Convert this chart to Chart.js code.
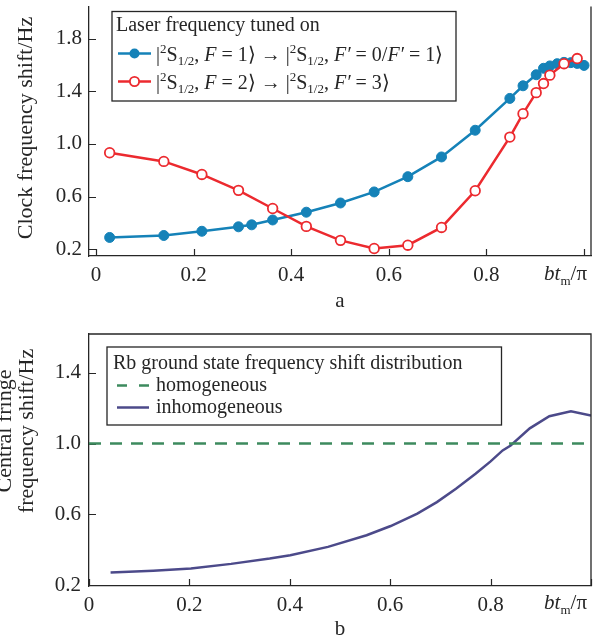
<!DOCTYPE html>
<html>
<head>
<meta charset="utf-8">
<script src="https://cdn.jsdelivr.net/npm/chart.js@4.4.0/dist/chart.umd.min.js"></script>
<style>
  body { margin: 0; background: #fff; }
  .panel { position: absolute; left: 0; width: 606px; }
  #boxA { top: 0; height: 320px; }
  #boxB { top: 320px; height: 323px; }
</style>
</head>
<body>
<div class="panel" id="boxA"><canvas id="chartA" width="606" height="320"></canvas></div>
<div class="panel" id="boxB"><canvas id="chartB" width="606" height="323"></canvas></div>
<script>
// ticks shared by both panels
const xTicks = [0, 0.2, 0.4, 0.6, 0.8, 1.0];
const xTickLabels = ['0', '0.2', '0.4', '0.6', '0.8', ''];
const yTicksA = [0.2, 0.6, 1.0, 1.4, 1.8];
const yTicksB = [0.2, 0.6, 1.0, 1.4];

// panel a: laser tuned on F=1 (blue, filled) and F=2 (red, open)
const blueX = [0.028, 0.139, 0.217, 0.292, 0.319, 0.362, 0.431, 0.501, 0.570, 0.639, 0.708,
  0.777, 0.848, 0.875, 0.902, 0.917, 0.930, 0.945, 0.959, 0.973, 0.986, 1.0];
const blueY = [0.289, 0.304, 0.336, 0.370, 0.385, 0.422, 0.481, 0.551, 0.635, 0.751, 0.901,
  1.104, 1.346, 1.442, 1.526, 1.575, 1.593, 1.610, 1.620, 1.618, 1.612, 1.597];
const redX = [0.028, 0.139, 0.217, 0.292, 0.362, 0.431, 0.501, 0.570, 0.639, 0.708,
  0.777, 0.848, 0.875, 0.902, 0.917, 0.930, 0.959, 0.986];
const redY = [0.933, 0.867, 0.768, 0.647, 0.509, 0.373, 0.267, 0.205, 0.230, 0.365,
  0.644, 1.052, 1.230, 1.390, 1.459, 1.523, 1.610, 1.649];

// panel b: Rb ground state shift distribution
const homX = [0, 1];
const homY = [1.0, 1.0];
const inhX = [0.043, 0.128, 0.203, 0.283, 0.360, 0.401, 0.476, 0.553, 0.601, 0.654,
  0.693, 0.731, 0.770, 0.800, 0.824, 0.840, 0.878, 0.917, 0.960, 1.0];
const inhY = [0.271, 0.281, 0.294, 0.320, 0.350, 0.369, 0.416, 0.482, 0.534, 0.604,
  0.669, 0.745, 0.829, 0.899, 0.961, 0.989, 1.086, 1.154, 1.182, 1.158];

const SERIF = "'Liberation Serif', 'Times New Roman', serif";
const INK = '#262626';
const BLUE = '#1582b8';
const RED = '#ec2a2f';
const GREEN = '#3d8a5e';
const PURPLE = '#4c4a8a';

const pts = (xs, ys) => xs.map((x, i) => ({ x: x, y: ys[i] }));

// draws text made of pieces: n = normal, i = italic, sup / sub = small raised / lowered
function richText(ctx, parts, x, y, size, align) {
  const fontOf = k => {
    const s = (k === 'sup' || k === 'sub') ? Math.round(size * 0.64) : size;
    return (k === 'i' ? 'italic ' : '') + s + 'px ' + SERIF;
  };
  let w = 0;
  parts.forEach(([t, k]) => { ctx.font = fontOf(k); w += ctx.measureText(t).width; });
  let cx = align === 'right' ? x - w : x;
  ctx.textAlign = 'left';
  ctx.textBaseline = 'alphabetic';
  parts.forEach(([t, k]) => {
    ctx.font = fontOf(k);
    const dy = k === 'sup' ? -size * 0.36 : (k === 'sub' ? size * 0.24 : 0);
    ctx.fillText(t, cx, y + dy);
    cx += ctx.measureText(t).width;
  });
}

function drawSymbol(ctx, kind, y) {
  ctx.save();
  ctx.lineWidth = 2.5;
  if (kind === 'blue' || kind === 'red') {
    ctx.strokeStyle = kind === 'blue' ? BLUE : RED;
    ctx.beginPath(); ctx.moveTo(118, y); ctx.lineTo(151, y); ctx.stroke();
    ctx.beginPath(); ctx.arc(134.5, y, kind === 'blue' ? 5 : 4.6, 0, Math.PI * 2);
    if (kind === 'blue') { ctx.fillStyle = BLUE; ctx.fill(); }
    else { ctx.fillStyle = '#fff'; ctx.fill(); ctx.lineWidth = 1.8; ctx.stroke(); }
  } else if (kind === 'dash') {
    ctx.strokeStyle = GREEN;
    ctx.beginPath(); ctx.moveTo(117, y); ctx.lineTo(127, y); ctx.moveTo(139, y); ctx.lineTo(149, y); ctx.stroke();
  } else {
    ctx.strokeStyle = PURPLE;
    ctx.beginPath(); ctx.moveTo(117, y); ctx.lineTo(149, y); ctx.stroke();
  }
  ctx.restore();
}

const deco = {
  id: 'deco',
  beforeDatasetsDraw(chart) {
    const { ctx, chartArea: a, scales } = chart;
    ctx.save();
    ctx.strokeStyle = INK;
    ctx.lineWidth = 1.2;
    ctx.beginPath();
    scales.x.ticks.forEach(t => {
      const px = Math.round(scales.x.getPixelForValue(t.value)) + 0.5;
      ctx.moveTo(px, a.bottom); ctx.lineTo(px, a.bottom - 7);
    });
    scales.y.ticks.forEach(t => {
      const py = Math.round(scales.y.getPixelForValue(t.value)) + 0.5;
      ctx.moveTo(a.left, py); ctx.lineTo(a.left + 7, py);
    });
    ctx.stroke();
    ctx.restore();
  },
  afterDraw(chart, args, o) {
    const { ctx, chartArea: a } = chart;
    ctx.save();
    // right side (and top) of the frame
    ctx.strokeStyle = INK;
    ctx.lineWidth = 1.3;
    ctx.beginPath();
    ctx.moveTo(a.right, a.bottom);
    ctx.lineTo(a.right, a.top);
    if (o.boxTop) ctx.lineTo(a.left, a.top);
    ctx.stroke();

    ctx.fillStyle = INK;
    // y axis title, rotated
    ctx.font = '22px ' + SERIF;
    ctx.textAlign = 'center';
    ctx.textBaseline = 'middle';
    o.yTitle.lines.forEach((line, i) => {
      ctx.save();
      ctx.translate(o.yTitle.x[i], o.yTitle.y);
      ctx.rotate(-Math.PI / 2);
      ctx.fillText(line, 0, 0);
      ctx.restore();
    });
    // variable name at the end of the x axis
    richText(ctx, [['bt', 'i'], ['m', 'sub'], ['/π', 'n']], 587, o.unitY, 21, 'right');

    // legend box
    const L = o.legend;
    ctx.strokeStyle = INK;
    ctx.lineWidth = 1.3;
    ctx.strokeRect(L.box[0], L.box[1], L.box[2] - L.box[0], L.box[3] - L.box[1]);
    ctx.fillStyle = INK;
    richText(ctx, [[L.title, 'n']], L.titleX, L.titleY, 20);
    L.rows.forEach(r => {
      drawSymbol(ctx, r.sym, r.y);
      ctx.fillStyle = INK;
      richText(ctx, r.parts, L.textX, r.y + r.dy, 20);
    });
    ctx.restore();
  }
};

function axes(p) {
  const tickFont = { family: SERIF, size: 21 };
  return {
    x: {
      type: 'linear', min: p.xMin, max: p.xMax,
      afterBuildTicks: s => { s.ticks = xTicks.map(v => ({ value: v })); },
      afterFit: s => { s.height = p.xHeight; s.paddingLeft = 0; s.paddingRight = 0; },
      ticks: { autoSkip: false, maxRotation: 0, padding: 7, color: INK, font: tickFont,
        callback: (v, i) => xTickLabels[i] },
      grid: { display: false, drawTicks: false },
      border: { display: true, color: INK, width: 1.3 },
      title: { display: true, text: p.letter, color: INK, font: tickFont,
        padding: { top: 0, bottom: p.letterPad } }
    },
    y: {
      type: 'linear', min: p.yMin, max: p.yMax,
      afterBuildTicks: s => { s.ticks = p.yTicks.map(v => ({ value: v })); },
      afterFit: s => { s.width = 89; s.paddingTop = 0; s.paddingBottom = 0; },
      ticks: { autoSkip: false, padding: p.yPad, color: INK, font: tickFont,
        callback: v => v.toFixed(1) },
      grid: { display: false, drawTicks: false },
      border: { display: true, color: INK, width: 1.3 }
    }
  };
}

new Chart(document.getElementById('chartA'), {
  type: 'line',
  data: {
    datasets: [{
      label: 'F = 1 → F′ = 0/F′ = 1',
      data: pts(blueX, blueY),
      borderColor: BLUE, borderWidth: 2.5,
      pointRadius: 5, pointHoverRadius: 5,
      pointBackgroundColor: BLUE, pointBorderColor: BLUE, pointBorderWidth: 1,
      order: 1
    }, {
      label: 'F = 2 → F′ = 3',
      data: pts(redX, redY),
      borderColor: RED, borderWidth: 2.5,
      pointRadius: 4.8, pointHoverRadius: 4.8,
      pointBackgroundColor: '#fff', pointBorderColor: RED, pointBorderWidth: 1.8,
      order: 0
    }]
  },
  options: {
    responsive: false,
    animation: false,
    layout: { padding: { left: 0, right: 15, top: 0, bottom: 0 } },
    scales: axes({ xMin: -0.0143, xMax: 1.0143, yMin: 0.148, yMax: 2.044, yTicks: yTicksA,
      xHeight: 64, yPad: 7, letter: 'a', letterPad: 6 }),
    plugins: {
      legend: { display: false },
      tooltip: { enabled: false },
      deco: {
        boxTop: false,
        yTitle: { lines: ['Clock frequency shift/Hz'], x: [26], y: 128 },
        unitY: 280,
        legend: {
          box: [112, 11.5, 456, 101],
          title: 'Laser frequency tuned on', titleX: 116, titleY: 31,
          textX: 156,
          rows: [
            { sym: 'blue', y: 53.5, dy: 7, parts: [['|', 'n'], ['2', 'sup'], ['S', 'n'], ['1/2', 'sub'], [', ', 'n'],
              ['F', 'i'], [' = 1⟩ → |', 'n'], ['2', 'sup'], ['S', 'n'], ['1/2', 'sub'], [', ', 'n'],
              ['F′', 'i'], [' = 0/', 'n'], ['F′', 'i'], [' = 1⟩', 'n']] },
            { sym: 'red', y: 81.5, dy: 7, parts: [['|', 'n'], ['2', 'sup'], ['S', 'n'], ['1/2', 'sub'], [', ', 'n'],
              ['F', 'i'], [' = 2⟩ → |', 'n'], ['2', 'sup'], ['S', 'n'], ['1/2', 'sub'], [', ', 'n'],
              ['F′', 'i'], [' = 3⟩', 'n']] }
          ]
        }
      }
    }
  },
  plugins: [deco]
});

new Chart(document.getElementById('chartB'), {
  type: 'line',
  data: {
    datasets: [{
      label: 'homogeneous',
      data: pts(homX, homY),
      borderColor: GREEN, borderWidth: 2.5, borderDash: [12, 9],
      pointRadius: 0
    }, {
      label: 'inhomogeneous',
      data: pts(inhX, inhY),
      borderColor: PURPLE, borderWidth: 2.5,
      pointRadius: 0, tension: 0
    }]
  },
  options: {
    responsive: false,
    animation: false,
    layout: { padding: { left: 0, right: 15, top: 14, bottom: 0 } },
    scales: axes({ xMin: 0, xMax: 1, yMin: 0.195, yMax: 1.619, yTicks: yTicksB,
      xHeight: 57, yPad: 8, letter: 'b', letterPad: 1 }),
    plugins: {
      legend: { display: false },
      tooltip: { enabled: false },
      deco: {
        boxTop: true,
        yTitle: { lines: ['Central fringe', 'frequency shift/Hz'], x: [5, 27], y: 111 },
        unitY: 289,
        legend: {
          box: [107, 27, 501.5, 105],
          title: 'Rb ground state frequency shift distribution', titleX: 113, titleY: 48.5,
          textX: 156,
          rows: [
            { sym: 'dash', y: 65.5, dy: 5.5, parts: [['homogeneous', 'n']] },
            { sym: 'solid', y: 87.5, dy: 5.5, parts: [['inhomogeneous', 'n']] }
          ]
        }
      }
    }
  },
  plugins: [deco]
});
</script>
</body>
</html>
